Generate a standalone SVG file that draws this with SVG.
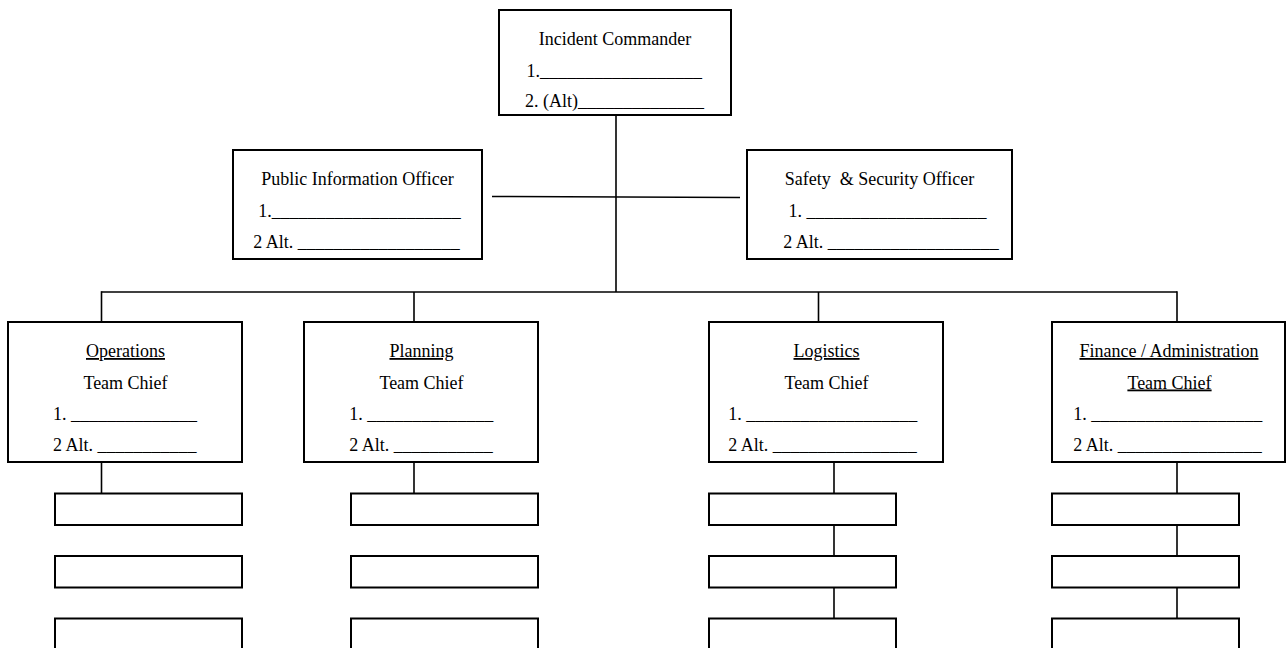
<svg xmlns="http://www.w3.org/2000/svg" width="1286" height="648" viewBox="0 0 1286 648">
<style>
  .box { fill: #ffffff; stroke: #000000; stroke-width: 2; }
  .conn line { stroke: #000000; stroke-width: 1.6; }
  text { font-family: "Liberation Serif", "Times New Roman", serif; font-size: 18px; fill: #000000; }
  .c { text-anchor: middle; }
  .u { text-decoration: underline; }
</style>
<rect width="1286" height="648" fill="#ffffff"/>
<g id="connectors" class="conn">
  <line x1="616" y1="115" x2="616" y2="292"/>
  <line x1="492" y1="196.5" x2="740" y2="197.5"/>
  <line x1="101.5" y1="292" x2="1177" y2="292"/>
  <line x1="101.5" y1="291.2" x2="101.5" y2="322"/>
  <line x1="414" y1="292" x2="414" y2="322"/>
  <line x1="818.5" y1="292" x2="818.5" y2="322"/>
  <line x1="1177" y1="291.2" x2="1177" y2="322"/>
  <line x1="101.5" y1="462" x2="101.5" y2="493.5"/>
  <line x1="414" y1="462" x2="414" y2="493.5"/>
  <line x1="834" y1="462" x2="834" y2="493.5"/>
  <line x1="834" y1="525" x2="834" y2="556"/>
  <line x1="834" y1="587.5" x2="834" y2="618.5"/>
  <line x1="1177" y1="462" x2="1177" y2="493.5"/>
  <line x1="1177" y1="525" x2="1177" y2="556"/>
  <line x1="1177" y1="587.5" x2="1177" y2="618.5"/>
</g>
<g id="incident-commander">
  <rect class="box" x="499" y="10" width="232" height="105"/>
  <text class="c" x="615" y="44.5">Incident Commander</text>
  <text x="526.5" y="77">1.__________________</text>
  <text x="525" y="107">2. (Alt)______________</text>
</g>
<g id="public-information-officer">
  <rect class="box" x="233" y="150" width="249" height="109"/>
  <text class="c" x="357.5" y="184.5">Public Information Officer</text>
  <text x="258.3" y="216.5">1._____________________</text>
  <text x="253.3" y="247.5">2 Alt. __________________</text>
</g>
<g id="safety-security-officer">
  <rect class="box" x="747" y="150" width="265" height="109"/>
  <text class="c" x="879.5" y="184.5" xml:space="preserve">Safety  &amp; Security Officer</text>
  <text x="788.5" y="216.5">1. ____________________</text>
  <text x="783.3" y="247.5">2 Alt. ___________________</text>
</g>
<g id="operations">
  <rect class="box" x="8" y="322" width="234" height="140"/>
  <text class="c u" x="125.5" y="357">Operations</text>
  <text class="c" x="125.5" y="388.5">Team Chief</text>
  <text x="53" y="420">1. ______________</text>
  <text x="53" y="450.5">2 Alt. ___________</text>
</g>
<g id="planning">
  <rect class="box" x="304" y="322" width="234" height="140"/>
  <text class="c u" x="421.5" y="357">Planning</text>
  <text class="c" x="421.5" y="388.5">Team Chief</text>
  <text x="349.3" y="420">1. ______________</text>
  <text x="349.3" y="450.5">2 Alt. ___________</text>
</g>
<g id="logistics">
  <rect class="box" x="709" y="322" width="234" height="140"/>
  <text class="c u" x="826.5" y="357">Logistics</text>
  <text class="c" x="826.5" y="388.5">Team Chief</text>
  <text x="728.3" y="420">1. ___________________</text>
  <text x="728.3" y="450.5">2 Alt. ________________</text>
</g>
<g id="finance-administration">
  <rect class="box" x="1052" y="322" width="233" height="140"/>
  <text class="c u" x="1169" y="357">Finance / Administration</text>
  <text class="c u" x="1169.5" y="388.5">Team Chief</text>
  <text x="1073.3" y="420">1. ___________________</text>
  <text x="1073.3" y="450.5">2 Alt. ________________</text>
</g>
<g id="operations-sub-1"><rect class="box" x="55" y="493.5" width="187" height="31.5"/></g>
<g id="operations-sub-2"><rect class="box" x="55" y="556" width="187" height="31.5"/></g>
<g id="operations-sub-3"><rect class="box" x="55" y="618.5" width="187" height="40"/></g>
<g id="planning-sub-1"><rect class="box" x="351" y="493.5" width="187" height="31.5"/></g>
<g id="planning-sub-2"><rect class="box" x="351" y="556" width="187" height="31.5"/></g>
<g id="planning-sub-3"><rect class="box" x="351" y="618.5" width="187" height="40"/></g>
<g id="logistics-sub-1"><rect class="box" x="709" y="493.5" width="187" height="31.5"/></g>
<g id="logistics-sub-2"><rect class="box" x="709" y="556" width="187" height="31.5"/></g>
<g id="logistics-sub-3"><rect class="box" x="709" y="618.5" width="187" height="40"/></g>
<g id="finance-sub-1"><rect class="box" x="1052" y="493.5" width="187" height="31.5"/></g>
<g id="finance-sub-2"><rect class="box" x="1052" y="556" width="187" height="31.5"/></g>
<g id="finance-sub-3"><rect class="box" x="1052" y="618.5" width="187" height="40"/></g>
</svg>
